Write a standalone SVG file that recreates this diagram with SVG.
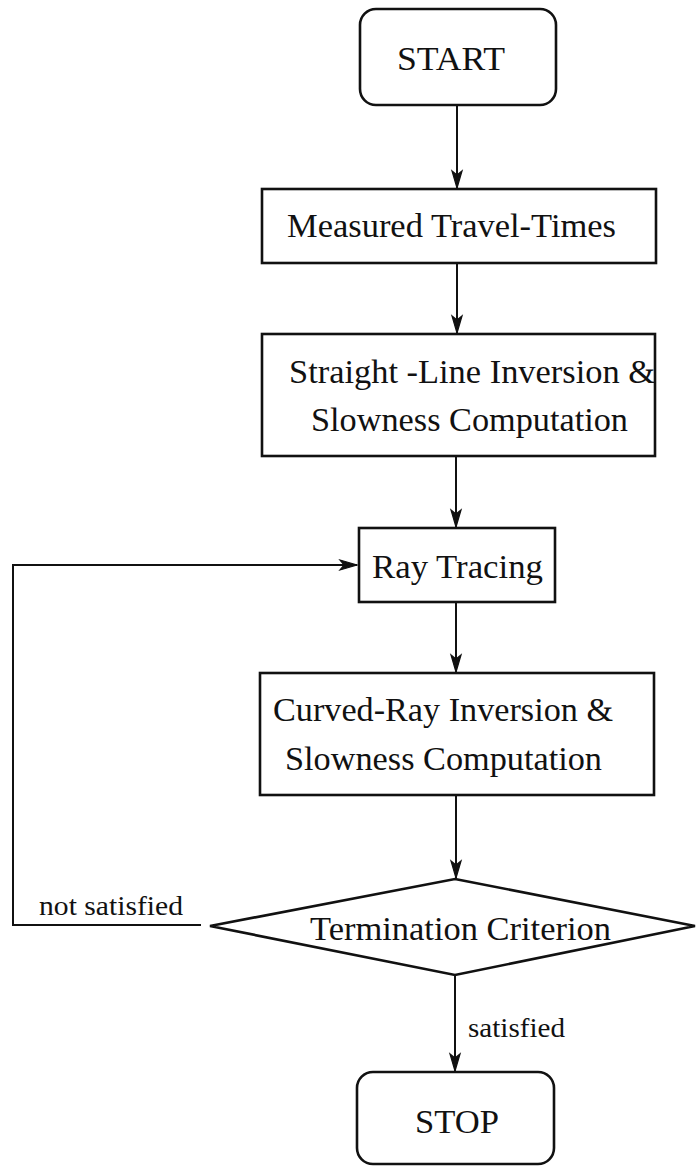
<svg xmlns="http://www.w3.org/2000/svg" width="699" height="1166" viewBox="0 0 699 1166">
<defs>
<marker id="arr" markerUnits="userSpaceOnUse" markerWidth="24" markerHeight="16" viewBox="-20 -8 24 16" refX="0" refY="0" orient="auto">
<path d="M-17,-5 L0,0 L-17,5 L-13,0 Z" fill="#111" stroke="#111" stroke-width="1.2" stroke-linejoin="miter"/>
</marker>
<style>
.box{fill:#fff;stroke:#111;stroke-width:2.6}
.t{font-family:"Liberation Serif","Times New Roman",serif;font-size:34px;fill:#111}
.s{font-family:"Liberation Serif","Times New Roman",serif;font-size:28px;fill:#111}
.c{fill:none;stroke:#111;stroke-width:2}
</style>
</defs>
<rect width="699" height="1166" fill="#fff"/>
<g id="connectors">
<line class="c" x1="457" y1="105" x2="457" y2="188" marker-end="url(#arr)"/>
<line class="c" x1="457" y1="263" x2="457" y2="333" marker-end="url(#arr)"/>
<line class="c" x1="456" y1="456" x2="456" y2="527" marker-end="url(#arr)"/>
<line class="c" x1="456" y1="602" x2="456" y2="672" marker-end="url(#arr)"/>
<line class="c" x1="456" y1="795" x2="456" y2="878" marker-end="url(#arr)"/>
<line class="c" x1="455" y1="975" x2="455" y2="1071" marker-end="url(#arr)"/>
<polyline class="c" points="201,925 13,925 13,565 357,565" marker-end="url(#arr)"/>
<text class="s" x="39" y="915" textLength="144" lengthAdjust="spacingAndGlyphs">not satisfied</text>
<text class="s" x="468" y="1037" textLength="97" lengthAdjust="spacingAndGlyphs">satisfied</text>
</g>
<g id="start">
<rect class="box" x="360" y="9" width="196" height="96" rx="16"/>
<text class="t" x="397" y="70" textLength="108" lengthAdjust="spacingAndGlyphs">START</text>
</g>
<g id="measured">
<rect class="box" x="262" y="189" width="394" height="74"/>
<text class="t" x="287" y="237" textLength="329" lengthAdjust="spacingAndGlyphs">Measured Travel-Times</text>
</g>
<g id="straight">
<rect class="box" x="262" y="334" width="393" height="122"/>
<text class="t" x="289" y="383" textLength="366" lengthAdjust="spacingAndGlyphs">Straight -Line Inversion &amp;</text>
<text class="t" x="311" y="431" textLength="317" lengthAdjust="spacingAndGlyphs">Slowness Computation</text>
</g>
<g id="raytracing">
<rect class="box" x="359" y="528" width="196" height="74"/>
<text class="t" x="372" y="578" textLength="171" lengthAdjust="spacingAndGlyphs">Ray Tracing</text>
</g>
<g id="curved">
<rect class="box" x="260" y="673" width="394" height="122"/>
<text class="t" x="273" y="721" textLength="340" lengthAdjust="spacingAndGlyphs">Curved-Ray Inversion &amp;</text>
<text class="t" x="285" y="770" textLength="317" lengthAdjust="spacingAndGlyphs">Slowness Computation</text>
</g>
<g id="termination">
<polygon class="box" points="455,879 695,926 455,975 210,926"/>
<text class="t" x="310" y="940" textLength="301" lengthAdjust="spacingAndGlyphs">Termination Criterion</text>
</g>
<g id="stop">
<rect class="box" x="357" y="1072" width="197" height="92" rx="16"/>
<text class="t" x="415" y="1133" textLength="84" lengthAdjust="spacingAndGlyphs">STOP</text>
</g>
</svg>
